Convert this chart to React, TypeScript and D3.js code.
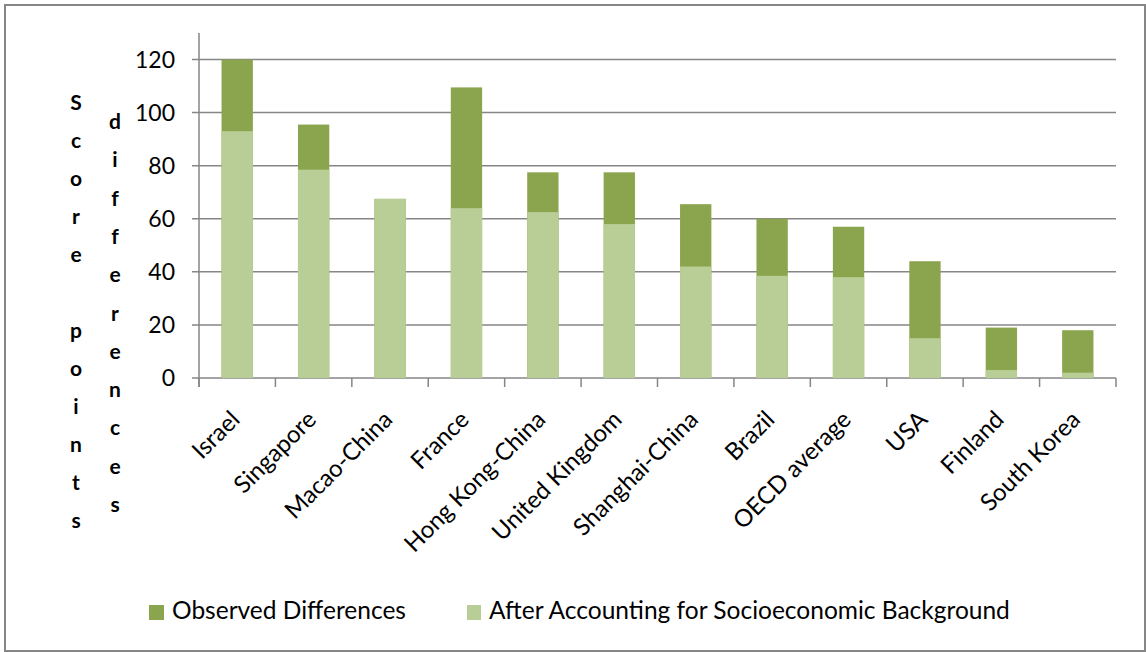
import React from "react";
import * as d3 from "d3";

// Score-point gaps between advantaged and disadvantaged students
const countries = [
  "Israel",
  "Singapore",
  "Macao-China",
  "France",
  "Hong Kong-China",
  "United Kingdom",
  "Shanghai-China",
  "Brazil",
  "OECD average",
  "USA",
  "Finland",
  "South Korea",
];
const observed = [120, 95.5, 67.5, 109.5, 77.5, 77.5, 65.5, 60, 57, 44, 19, 18];
const adjusted = [93, 78.5, 67.5, 64, 62.5, 58, 42, 38.5, 38, 15, 3, 2];
const yTicks = [0, 20, 40, 60, 80, 100, 120];
const seriesNames = ["Observed Differences", "After Accounting for Socioeconomic Background"];
const titleLeft = "Score points";
const titleRight = "differences";

const W = 1146;
const H = 652;
const FONT = "Lato, 'Open Sans', sans-serif";
const GRID = "#868686";
const DARK = "#8aa54d";
const LIGHT = "#b9ce96";

export default function App() {
  const left = 199;
  const right = 1116;
  const x = d3
    .scaleBand<string>()
    .domain(countries)
    .range([left, right])
    .paddingInner(0.59)
    .paddingOuter(0.295);
  const y = d3.scaleLinear().domain([0, 130]).range([378, 33]);
  const step = x.step();
  const bw = x.bandwidth();
  const bounds = countries.map((c) => x(c)! + bw / 2 - step / 2);
  bounds.push(bounds[bounds.length - 1] + step);

  return (
    <svg
      width={W}
      height={H}
      style={{ position: "absolute", left: 0, top: 0, background: "#fff" }}
      fontFamily={FONT}
    >
      <rect x={5} y={5} width={1140} height={646} fill="#fff" stroke={GRID} strokeWidth={2} />

      {/* gridlines and y ticks */}
      {yTicks.map((t) => (
        <g key={t}>
          <line x1={left - 7} x2={right} y1={y(t)} y2={y(t)} stroke={GRID} strokeWidth={1.5} />
          <text x={175} y={y(t)} dy="0.35em" textAnchor="end" fontSize={23} fill="#000">
            {t}
          </text>
        </g>
      ))}

      {/* y axis */}
      <line x1={left} x2={left} y1={y(130)} y2={387} stroke={GRID} strokeWidth={1.5} />
      {/* x axis ticks */}
      {bounds.map((b, i) => (
        <line key={i} x1={b} x2={b} y1={y(0)} y2={387} stroke={GRID} strokeWidth={1.5} />
      ))}

      {/* bars */}
      {countries.map((c, i) => (
        <g key={c}>
          <rect x={x(c)} width={bw} y={y(observed[i])} height={y(0) - y(observed[i])} fill={DARK} />
          <rect x={x(c)} width={bw} y={y(adjusted[i])} height={y(0) - y(adjusted[i])} fill={LIGHT} />
        </g>
      ))}

      {/* category labels */}
      {countries.map((c) => {
        const cx = x(c)! + bw / 2 + 4;
        const cy = 421;
        return (
          <text
            key={c}
            x={cx}
            y={cy}
            transform={`rotate(-45 ${cx} ${cy})`}
            textAnchor="end"
            fontSize={24}
            fill="#000"
          >
            {c}
          </text>
        );
      })}

      {/* stacked-letter axis titles */}
      {titleLeft.split("").map((ch, i) => (
        <text key={"a" + i} x={76} y={110 + i * 38} textAnchor="middle" fontSize={21} fontWeight="bold" fill="#000">
          {ch}
        </text>
      ))}
      {titleRight.split("").map((ch, i) => (
        <text key={"b" + i} x={115} y={129 + i * 38.3} textAnchor="middle" fontSize={21} fontWeight="bold" fill="#000">
          {ch}
        </text>
      ))}

      {/* legend */}
      <rect x={149} y={605} width={15} height={15} fill={DARK} />
      <text x={172} y={619} fontSize={24.5} fill="#000">
        {seriesNames[0]}
      </text>
      <rect x={467} y={605} width={14} height={15} fill={LIGHT} />
      <text x={489} y={619} fontSize={24.5} fill="#000">
        {seriesNames[1]}
      </text>
    </svg>
  );
}
